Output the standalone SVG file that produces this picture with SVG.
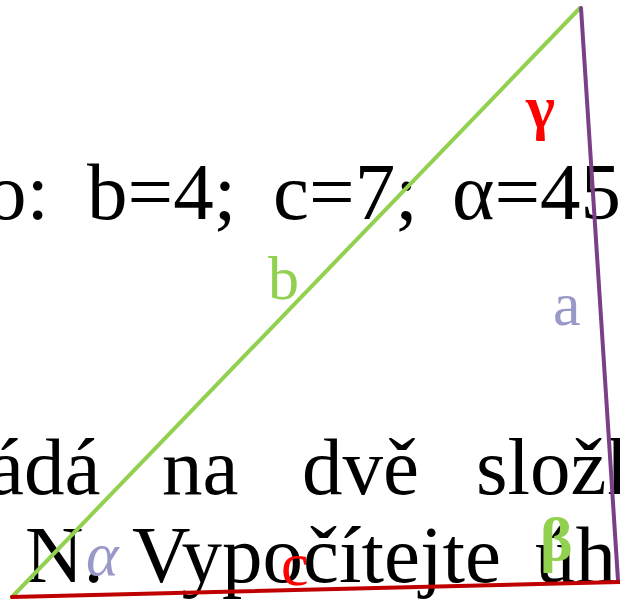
<svg xmlns="http://www.w3.org/2000/svg" width="620" height="600" viewBox="0 0 620 600">
<style>
.t{font-family:"Liberation Serif","Times New Roman",serif;font-size:81px;fill:#000}
.lbl{font-family:"Liberation Serif","Times New Roman",serif;font-size:62px}
.edge{fill:none;stroke-width:4;stroke-linecap:round}
</style>
<rect width="620" height="600" fill="#fff"/>
<g id="text">
<text class="t" x="-14" y="219">o:</text>
<text class="t" x="87" y="219">b=4;</text>
<text class="t" x="273" y="219">c=7;</text>
<text class="t" x="452" y="219">α=45</text>
<text class="t" x="-12" y="494">ádá</text>
<text class="t" x="162" y="494">na</text>
<text class="t" x="302" y="494">dvě</text>
<text class="t" x="476" y="494">složk</text>
<text class="t" x="25" y="582">N.</text>
<text class="t" x="132" y="582">Vypočítejte</text>
<text class="t" x="535" y="582">úh</text>
</g>
<g id="connectors">
<line id="b" class="edge" x1="12" y1="597" x2="580" y2="8" stroke="#92D050"/>
<line id="a" class="edge" x1="581" y1="8" x2="618" y2="580" stroke="#7B3F86"/>
<line id="c" class="edge" x1="12" y1="597" x2="620" y2="582" stroke="#C00000"/>
</g>
<g id="labels">
<text class="lbl" x="526" y="128" fill="#FF0000" font-weight="bold" font-size="50">γ</text>
<text class="lbl" x="268" y="299" fill="#92D050" font-size="66">b</text>
<text class="lbl" x="553" y="325" fill="#9999C8" font-size="68">a</text>
<text class="lbl" x="540" y="560" fill="#92D050" font-size="68" font-weight="bold">β</text>
<text class="lbl" x="86" y="575" fill="#9999C8" font-size="68" font-style="italic">α</text>
<text class="lbl" x="281" y="585" fill="#FF0000" font-size="60">c</text>
</g>
</svg>
